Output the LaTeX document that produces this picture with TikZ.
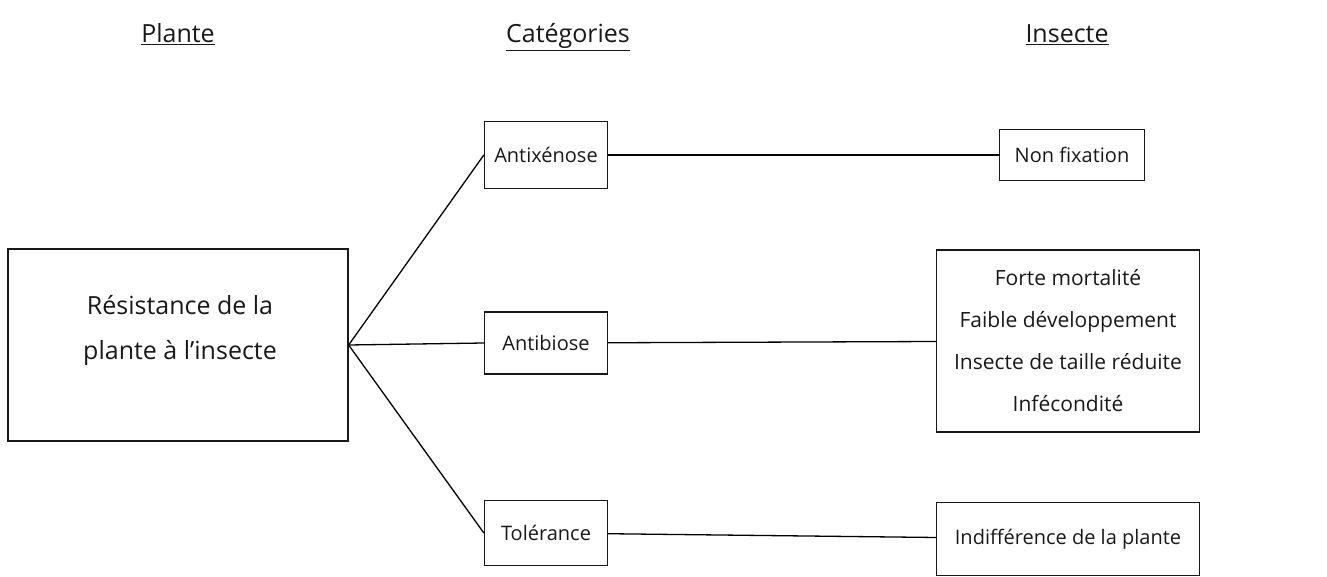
\documentclass[tikz,border=0pt]{standalone}
\usepackage{fontspec}
\setmainfont{Open Sans}
\usepackage{tikz}
\definecolor{line_black}{RGB}{25,25,25}

\begin{document}
\begin{tikzpicture}[-,x=1pt,y=-1pt,line width=1.3pt]
    \tikzstyle{box}=[draw=line_black, rectangle, inner sep=0pt, text=line_black, font=\fontsize{20}{42}\selectfont, align=center]
    \tikzstyle{lbl}=[text=line_black, align=center, font=\fontsize{25}{45}\selectfont]
    \tikzstyle{head}=[text=line_black, anchor=base, font=\fontsize{25}{30}\selectfont]
    \useasboundingbox (0,0) rectangle (1327,577);

    % column heads
    \node[head] (hplante) at (178,43)  {\underline{Plante}};
    \node[head] (hcateg)  at (568,43)  {\underline{Catégories}};
    \node[head] (hinsect) at (1067,43) {\underline{Insecte}};

    % plant side
    \node[box, minimum width=340, minimum height=192] (resist) at (178,345) {};
    \node[lbl] (resistlbl) at (180,330) {Résistance de la\\plante à l\symbol{"0027}insecte};

    % categories
    \node[box, minimum width=123, minimum height=67] (antix) at (546,155) {Antixénose};
    \node[box, minimum width=123, minimum height=62] (antib) at (546,343) {Antibiose};
    \node[box, minimum width=123, minimum height=65] (toler) at (546,533) {Tolérance};

    % insect side
    \node[box, minimum width=145, minimum height=51] (nonfix) at (1072,155) {Non fixation};
    \node[box, minimum width=263, minimum height=182, font=\fontsize{21}{42}\selectfont] (effets) at (1068,341)
        {Forte mortalité\\Faible développement\\Insecte de taille réduite\\Infécondité};
    \node[box, minimum width=263, minimum height=73] (indiff) at (1068,539) {Indifférence de la plante};

    \path
     (resist.east) edge (antix.west)
     (resist.east) edge (antib.west)
     (resist.east) edge (toler.west)
     (antix) edge (nonfix)
     (antib) edge (effets)
     (toler) edge (indiff)
     ;
\end{tikzpicture}
\end{document}
